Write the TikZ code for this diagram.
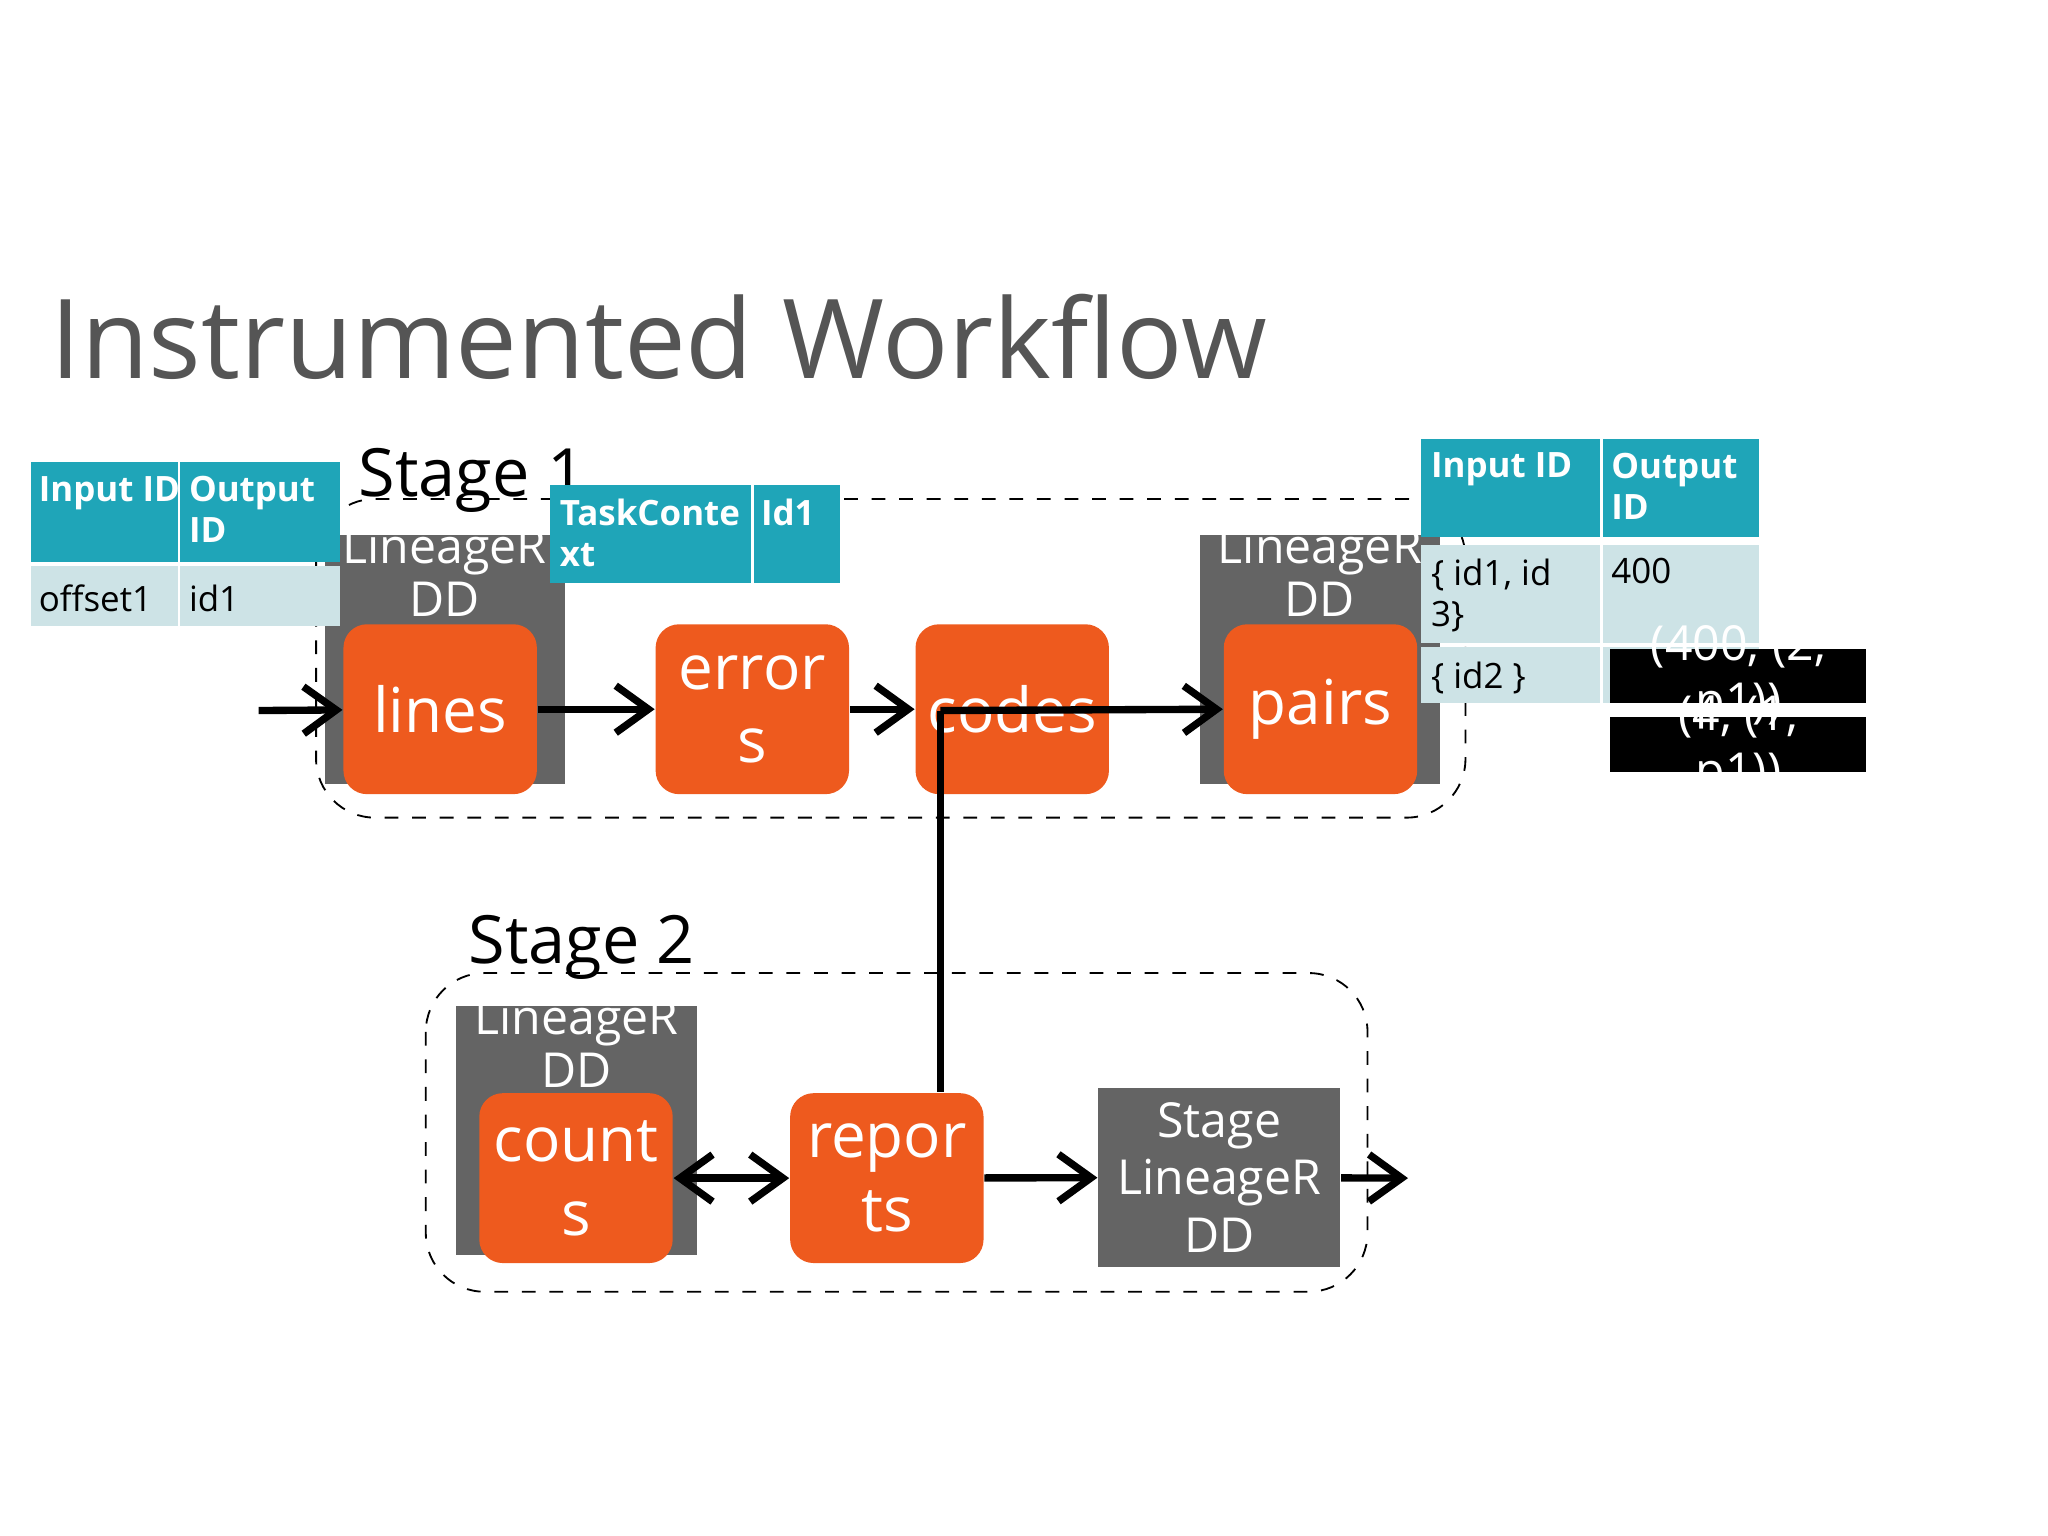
\documentclass[tikz,border=0pt]{standalone}
\usepackage{fontspec}
\setmainfont{Open Sans}
\usetikzlibrary{arrows.meta}
\definecolor{teal}{HTML}{1FA5B8}
\definecolor{pale}{HTML}{CDE3E6}
\definecolor{org}{HTML}{EE5A1E}
\definecolor{gry}{HTML}{646464}
\begin{document}
\begin{tikzpicture}[x=0.01cm,y=-0.01cm,
 box/.style={fill=org,rounded corners=0.18cm,minimum width=1.48cm,minimum height=1.30cm,text=white,align=center,font=\fontsize{13.5}{16}\selectfont,inner sep=0},
 gbox/.style={fill=gry,minimum width=1.84cm,minimum height=1.90cm,inner sep=0},
 gtxt/.style={text=white,align=center,font=\fontsize{10.5}{11.5}\selectfont,inner sep=0},
 ctxt/.style={anchor=north west,align=left,font=\fontsize{7.6}{9}\selectfont,inner sep=0},
 stage/.style={draw,dashed,thin,rounded corners=0.45cm},
 arr/.style={line width=1.6pt,-{Straight Barb[length=0.25cm,width=0.36cm,line width=1.6pt]}},
 dbl/.style={line width=1.6pt,{Straight Barb[length=0.25cm,width=0.36cm,line width=1.6pt]}-{Straight Barb[length=0.25cm,width=0.36cm,line width=1.6pt]}}]
\useasboundingbox (0,0) rectangle (1568,1176);
\node[anchor=base west,inner sep=0,text=gry!85!black,font=\fontsize{24}{26}\selectfont] (title) at (38,290) {Instrumented Workflow};
% stage 1
\draw[stage] (242,382) rectangle (1122,626);
\node[anchor=base west,inner sep=0,font=\fontsize{14.5}{16}\selectfont] (s1) at (274,380) {Stage 1};
\node[gbox] (g1) at (340.5,505) {};
\node[gtxt,anchor=north] (g1t) at (340.5,404) {LineageR\\DD};
\node[gbox] (g2) at (1010.5,505) {};
\node[gtxt,anchor=north] (g2t) at (1010.5,404) {LineageR\\DD};
\node[box] (lines) at (337,543) {lines};
\node[box] (errors) at (576,543) {error\\s};
\node[box] (codes) at (775,543) {codes};
\node[box] (pairs) at (1011,543) {pairs};
\coordinate (in1) at (198,544);
\draw[arr] (in1) -- (lines);
\draw[arr] (lines) -- (errors);
\draw[arr] (errors) -- (codes);
\coordinate (c1) at (720,544);
\draw[arr] (c1) -- (pairs.west);
% stage 2
\draw[stage] (326,745) rectangle (1047,989);
\node[anchor=base west,inner sep=0,font=\fontsize{14.5}{16}\selectfont] (s2) at (358,738) {Stage 2};
\node[gbox] (g3) at (441.5,865.5) {};
\node[gtxt,anchor=north] (g3t) at (441.5,764) {LineageR\\DD};
\node[box] (counts) at (441,902) {count\\s};
\node[box] (reports) at (679,902) {repor\\ts};
\node[fill=gry,minimum width=1.85cm,minimum height=1.37cm,text=white,align=center,font=\fontsize{10.5}{12.5}\selectfont,inner sep=0] (sl) at (933.5,901.5) {Stage\\LineageR\\DD};
\draw[line width=1.6pt] (c1) -- (reports.north -| c1);
\draw[dbl] (counts) -- (reports);
\draw[arr] (reports) -- (sl);
\coordinate (out) at (1078,902);
\draw[arr] (sl) -- (out);
% left table
\fill[teal] (24,354) rectangle (260,430);
\draw[white,line width=0.6pt] (137,354) -- (137,430);
\fill[pale] (24,433) rectangle (260,479);
\draw[white,line width=0.6pt] (137,433) -- (137,479);
\node[ctxt,text=white] (l1) at (29,364) {\textbf{Input ID}};
\node[ctxt,text=white] (l2) at (144,364) {\textbf{Output}\\\textbf{ID}};
\node[ctxt] (l3) at (29,447) {offset1};
\node[ctxt] (l4) at (144,447) {id1};
% task context table
\fill[teal] (421,371) rectangle (643,446);
\draw[white,line width=0.6pt] (576,371) -- (576,446);
\node[ctxt,text=white] (t1) at (428,381) {\textbf{TaskConte}\\\textbf{xt}};
\node[ctxt,text=white] (t2) at (582,381) {\textbf{Id1}};
% right table
\fill[teal] (1088,336) rectangle (1347,411);
\draw[white,line width=0.6pt] (1226,336) -- (1226,411);
\fill[pale] (1088,417) rectangle (1347,492);
\fill[pale] (1088,495) rectangle (1347,538);
\draw[white,line width=0.6pt] (1226,417) -- (1226,538);
\node[ctxt,text=white] (r1) at (1095,346) {\textbf{Input ID}};
\node[ctxt,text=white] (r2) at (1233,346) {\textbf{Output}\\\textbf{ID}};
\node[ctxt] (r3) at (1095,427) {\{ id1, id\\3\}};
\node[ctxt] (r4) at (1233,427) {400};
\node[ctxt] (r5) at (1095,506) {\{ id2 \}};
% black boxes
\fill[black] (1233,497) rectangle (1429,538);
\fill[black] (1233,549) rectangle (1429,591);
\begin{scope}
\clip (1233,470) rectangle (1429,591);
\node[anchor=north,align=center,text=white,font=\fontsize{10.5}{12.5}\selectfont,inner sep=0] (b1) at (1331,478) {(400, (2,\\p1))};
\node[anchor=north,align=center,text=white,font=\fontsize{10.5}{12.5}\selectfont,inner sep=0] (b2) at (1331,532) {(4, (1,\\p1))};
\end{scope}
\end{tikzpicture}
\end{document}
